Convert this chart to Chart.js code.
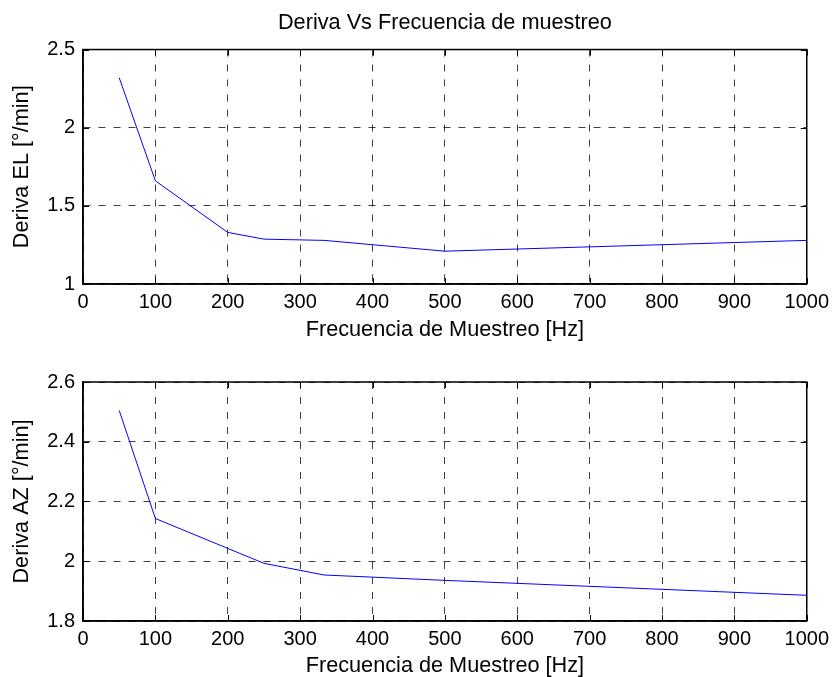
<!DOCTYPE html>
<html>
<head>
<meta charset="utf-8">
<script src="https://cdn.jsdelivr.net/npm/chart.js@4.4.0/dist/chart.umd.min.js"></script>
<style>
  body { margin: 0; background: #fff; }
  #wrap { position: relative; width: 835px; height: 677px; }
  canvas { position: absolute; left: 0; }
  #elChart { top: 0; }
  #azChart { top: 345px; }
</style>
</head>
<body>
<div id="wrap">
  <canvas id="elChart" width="835" height="345"></canvas>
  <canvas id="azChart" width="835" height="332"></canvas>
</div>
<script>
// sample frequencies [Hz] and measured drift [deg/min]
const freqs = [50, 100, 200, 250, 333, 500, 1000];
const derivaEL = [2.32, 1.66, 1.33, 1.287, 1.279, 1.21, 1.279];
const derivaAZ = [2.505, 2.143, 2.043, 1.993, 1.954, 1.936, 1.886];

const freqTicks = [0, 100, 200, 300, 400, 500, 600, 700, 800, 900, 1000];
const elTicks = [1, 1.5, 2, 2.5];
const azTicks = [1.8, 2, 2.2, 2.4, 2.6];

const FONT = 'Liberation Sans, Arial, Helvetica, sans-serif';

// matlab style box with inward tick marks
const boxPlugin = {
  id: 'matlabBox',
  afterDraw(chart) {
    const ctx = chart.ctx;
    const a = chart.chartArea;
    const xs = chart.scales.x;
    const ys = chart.scales.y;
    ctx.save();
    ctx.strokeStyle = '#000';
    ctx.lineWidth = 1;
    ctx.beginPath();
    xs.ticks.forEach(t => {
      const px = Math.round(xs.getPixelForValue(t.value)) + 0.5;
      ctx.moveTo(px, a.bottom); ctx.lineTo(px, a.bottom - 6);
      ctx.moveTo(px, a.top); ctx.lineTo(px, a.top + 6);
    });
    ys.ticks.forEach(t => {
      const py = Math.round(ys.getPixelForValue(t.value)) + 0.5;
      ctx.moveTo(a.left, py); ctx.lineTo(a.left + 6, py);
      ctx.moveTo(a.right, py); ctx.lineTo(a.right - 6, py);
    });
    ctx.stroke();
    ctx.lineWidth = 1.5;
    ctx.strokeRect(a.left, a.top, a.right - a.left, a.bottom - a.top);
    ctx.restore();
  }
};

function makeChart(id, values, yTicks, yLabel, opts) {
  const ctx = document.getElementById(id).getContext('2d');
  return new Chart(ctx, {
    type: 'line',
    data: {
      datasets: [{
        data: freqs.map((f, i) => ({ x: f, y: values[i] })),
        borderColor: 'rgb(0, 0, 255)',
        borderWidth: 1,
        pointRadius: 0,
        tension: 0,
        fill: false,
      }],
    },
    options: {
      responsive: false,
      animation: false,
      layout: { padding: { top: opts.padTop, right: 27, left: 9, bottom: 0 } },
      plugins: {
        legend: { display: false },
        tooltip: { enabled: false },
        title: {
          display: !!opts.title,
          text: opts.title || '',
          fullSize: false,
          color: '#000',
          font: { family: FONT, size: 21.7, weight: 'normal', lineHeight: 1.2 },
          padding: { top: 10, bottom: 13.5 },
        },
      },
      scales: {
        x: {
          type: 'linear',
          min: 0,
          max: 1000,
          afterBuildTicks: (s) => { s.ticks = freqTicks.map(v => ({ value: v })); },
          afterFit: (s) => { s.height = opts.xHeight; },
          ticks: {
            color: '#000',
            padding: 6,
            maxRotation: 0,
            autoSkip: false,
            font: { family: FONT, size: 20 },
            callback: (v) => String(v),
          },
          grid: { color: 'rgba(0,0,0,0.75)', lineWidth: 1, drawTicks: false },
          border: { display: true, color: '#000', width: 1.5, dash: [7, 8] },
          title: {
            display: true,
            text: 'Frecuencia de Muestreo [Hz]',
            color: '#000',
            font: { family: FONT, size: 21.7, lineHeight: 1 },
            padding: { top: 0, bottom: opts.xTitlePad },
          },
        },
        y: {
          type: 'linear',
          min: yTicks[0],
          max: yTicks[yTicks.length - 1],
          afterBuildTicks: (s) => { s.ticks = yTicks.map(v => ({ value: v })); },
          afterFit: (s) => { s.width = 83 - 9; },
          ticks: {
            color: '#000',
            padding: 8,
            font: { family: FONT, size: 20 },
            callback: (v) => String(+v.toFixed(2)),
          },
          grid: { color: 'rgba(0,0,0,0.75)', lineWidth: 1, drawTicks: false },
          border: { display: true, color: '#000', width: 1.5, dash: [7, 8] },
          title: {
            display: true,
            text: yLabel,
            color: '#000',
            font: { family: FONT, size: 21.7, lineHeight: 1.2 },
            padding: 0,
          },
        },
      },
    },
    plugins: [boxPlugin],
  });
}

makeChart('elChart', derivaEL, elTicks, 'Deriva EL [°/min]', {
  title: 'Deriva Vs Frecuencia de muestreo', padTop: 0, xHeight: 61, xTitlePad: 4,
});
makeChart('azChart', derivaAZ, azTicks, 'Deriva AZ [°/min]', {
  padTop: 37, xHeight: 56, xTitlePad: 0,
});
</script>
</body>
</html>
